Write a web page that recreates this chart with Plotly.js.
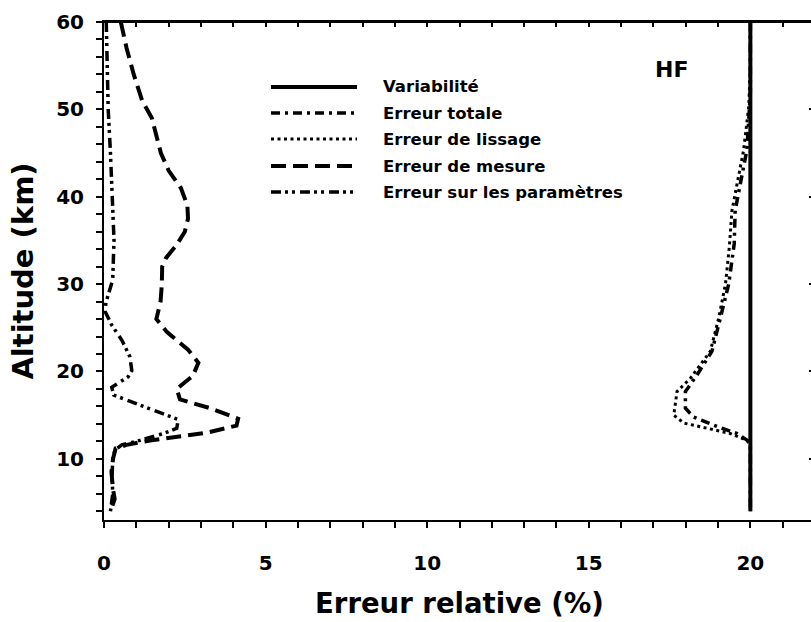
<!DOCTYPE html>
<html>
<head>
<meta charset="utf-8">
<script src="https://cdn.plot.ly/plotly-3.0.1.min.js"></script>
<style>
  html, body { margin: 0; padding: 0; overflow: hidden; background: #fff; }
  #chart { width: 830px; height: 622px; }
</style>
</head>
<body>
<div id="chart"></div>
<script>
// Relative error profiles (%) versus altitude (km)
const variabiliteAlt = [4, 60];
const variabiliteErr = [20, 20];

const totaleAlt = [60, 52, 50, 45.3, 41.5, 38.4, 34.6, 30, 26.1, 22.3, 19.6, 17.7, 15.8, 14.8, 13.7, 12.9, 12.0, 11.5, 4];
const totaleErr = [20, 20, 19.97, 19.89, 19.69, 19.53, 19.5, 19.33, 19.07, 18.81, 18.35, 17.99, 17.99, 18.24, 18.97, 19.59, 19.95, 20, 20];

const lissageAlt = [60, 55, 50.3, 45.3, 41.5, 38.4, 34.3, 30, 26.1, 22.3, 19.2, 17.7, 15.0, 14.1, 13.5, 12.9, 12.1, 11.5, 4];
const lissageErr = [20, 20, 19.95, 19.79, 19.59, 19.43, 19.35, 19.23, 19.02, 18.76, 18.14, 17.73, 17.63, 17.94, 18.66, 19.38, 19.90, 20, 20];

const mesureAlt = [60, 57, 54, 51, 49, 47, 45, 43, 41, 39, 37.5, 36, 34.5, 33, 32, 30, 28, 26, 24.5, 22.5, 21, 19.5, 18, 16.8, 15.8, 14.6, 13.8, 13, 12.5, 12.1, 11.6, 11.2, 10, 8.5, 6.5, 5.4, 4];
const mesureErr = [0.52, 0.70, 0.92, 1.18, 1.48, 1.63, 1.76, 2.0, 2.38, 2.58, 2.6, 2.5, 2.25, 1.92, 1.80, 1.79, 1.75, 1.62, 1.95, 2.6, 2.92, 2.75, 2.25, 2.35, 3.28, 4.15, 4.1, 3.2, 2.15, 1.42, 0.70, 0.36, 0.28, 0.23, 0.28, 0.33, 0.2];

const paramAlt = [60, 55, 50, 45, 42, 38, 35, 32.8, 30.5, 29, 27.9, 26.9, 25.3, 23.6, 21.7, 20.1, 19.4, 18.2, 17.3, 16.0, 15.0, 14.5, 13.5, 12.9, 12.0, 11.6, 11.0, 10, 8, 6, 4];
const paramErr = [0.07, 0.10, 0.13, 0.2, 0.24, 0.28, 0.31, 0.29, 0.27, 0.15, 0.06, 0.03, 0.24, 0.55, 0.80, 0.86, 0.75, 0.24, 0.30, 1.22, 1.94, 2.30, 2.25, 1.84, 1.0, 0.55, 0.34, 0.27, 0.25, 0.27, 0.2];

const seriesNames = ['Variabilité', 'Erreur totale', 'Erreur de lissage', 'Erreur de mesure', 'Erreur sur les paramètres'];
// Tick positions: every 1 % on x, every 2 km on y; only some of them carry a label
const xTickVals = [0, 1, 2, 3, 4, 5, 6, 7, 8, 9, 10, 11, 12, 13, 14, 15, 16, 17, 18, 19, 20, 21, 22];
const xTickText = ['0', '', '', '', '', '5', '', '', '', '', '10', '', '', '', '', '15', '', '', '', '', '20', '', ''];
const yTickVals = [4, 6, 8, 10, 12, 14, 16, 18, 20, 22, 24, 26, 28, 30, 32, 34, 36, 38, 40, 42, 44, 46, 48, 50, 52, 54, 56, 58, 60];
const yTickText = ['', '', '', '10', '', '', '', '', '20', '', '', '', '', '30', '', '', '', '', '40', '', '', '', '', '50', '', '', '', '', '60'];
const xRange = [0, 22];
const yRange = [3, 60];

const FONT = 'DejaVu Sans, Arial, sans-serif';
const styles = [
  { width: 4, dash: 'solid' },
  { width: 3.5, dash: '9px,5px,3px,5px' },
  { width: 3, dash: '3px,3.5px' },
  { width: 4, dash: '15px,7px' },
  { width: 3.5, dash: '10px,4px,3px,4px,3px,5px' }
];

const xs = [variabiliteErr, totaleErr, lissageErr, mesureErr, paramErr];
const ys = [variabiliteAlt, totaleAlt, lissageAlt, mesureAlt, paramAlt];

// The variability line lives on a second, transparent subplot (same domain and
// ranges) whose axes form the top and right edges of the frame
const traces = xs.map((x, i) => ({
  type: 'scatter', mode: 'lines', x: x, y: ys[i], name: seriesNames[i],
  xaxis: i === 0 ? 'x2' : 'x', yaxis: i === 0 ? 'y2' : 'y',
  line: { color: '#000', width: styles[i].width, dash: styles[i].dash },
  showlegend: false, hoverinfo: 'skip'
}));

// Hand-built legend: long line samples with labels
const legendRowsY = [87, 113, 139, 166, 192];
const plotLeft = 104, plotW = 711, plotTop = 22, plotH = 498;
const toPX = px => (px - plotLeft) / plotW;
const toPY = py => (plotTop + plotH - py) / plotH;

const shapes = seriesNames.map((n, i) => ({
  type: 'line', xref: 'paper', yref: 'paper',
  x0: toPX(271), x1: toPX(357), y0: toPY(legendRowsY[i]), y1: toPY(legendRowsY[i]),
  line: { color: '#000', width: styles[i].width, dash: styles[i].dash }
}));
// Top edge of the frame
shapes.push({
  type: 'line', xref: 'paper', yref: 'paper', x0: 0, x1: 1, y0: 1, y1: 1,
  line: { color: '#000', width: 2 }
});

const annotations = seriesNames.map((n, i) => ({
  xref: 'paper', yref: 'paper', x: toPX(381), y: toPY(legendRowsY[i]),
  xanchor: 'left', yanchor: 'middle', showarrow: false, text: n,
  font: { family: FONT, size: 16.5, color: '#000', weight: 'bold' }
}));
annotations.push({
  xref: 'paper', yref: 'paper', x: toPX(671), y: toPY(70),
  xanchor: 'center', yanchor: 'middle', showarrow: false, text: 'HF',
  font: { family: FONT, size: 22, color: '#000', weight: 'bold' }
});

const layout = {
  width: 830, height: 622,
  margin: { l: plotLeft, r: 830 - plotLeft - plotW, t: plotTop, b: 622 - plotTop - plotH },
  paper_bgcolor: '#fff', plot_bgcolor: 'rgba(0,0,0,0)',
  font: { family: FONT, color: '#000' },
  xaxis: {
    range: xRange, tickmode: 'array', tickvals: xTickVals, ticktext: xTickText,
    ticks: 'outside', ticklen: 6, tickwidth: 2, mirror: true,
    tickcolor: '#000', showline: true, linewidth: 2, linecolor: '#000',
    showgrid: false, zeroline: false, ticklabelstandoff: 18,
    tickfont: { family: FONT, size: 20, weight: 'bold' },
    title: { text: 'Erreur relative (%)', standoff: 20, font: { family: FONT, size: 27.5, weight: 'bold' } }
  },
  yaxis: {
    range: yRange, tickmode: 'array', tickvals: yTickVals, ticktext: yTickText,
    ticks: 'outside', ticklen: 6, tickwidth: 2, mirror: true,
    tickcolor: '#000', showline: true, linewidth: 2, linecolor: '#000',
    showgrid: false, zeroline: false, ticklabelstandoff: 8,
    tickfont: { family: FONT, size: 20, weight: 'bold' },
    title: { text: 'Altitude (km)', standoff: 14, font: { family: FONT, size: 29, weight: 'bold' } }
  },
  xaxis2: {
    side: 'top', anchor: 'y2', domain: [0, 1], range: xRange, dtick: 1, tick0: 0,
    ticks: 'inside', ticklen: 5, tickwidth: 2, tickcolor: '#000', showticklabels: false,
    showline: true, linewidth: 2, linecolor: '#000', showgrid: false, zeroline: false
  },
  yaxis2: {
    side: 'right', anchor: 'x2', domain: [0, 1], range: yRange, dtick: 10, tick0: 0,
    ticks: 'inside', ticklen: 6, tickwidth: 2, tickcolor: '#000', showticklabels: false,
    showline: true, linewidth: 2, linecolor: '#000', showgrid: false, zeroline: false
  },
  shapes: shapes,
  annotations: annotations,
  showlegend: false
};

Plotly.newPlot('chart', traces, layout, { staticPlot: true, displayModeBar: false });
</script>
</body>
</html>
